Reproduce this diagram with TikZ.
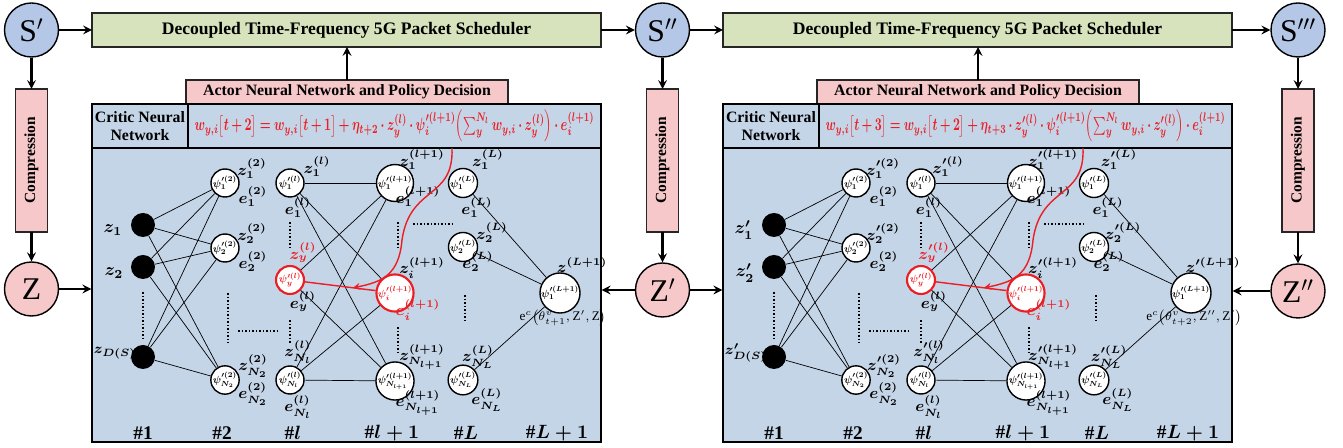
\documentclass[tikz,border=0pt]{standalone}
\usepackage{fontspec}
\setmainfont{Liberation Serif}
\usepackage{amsmath,amssymb}
\usepackage{graphicx}
\usetikzlibrary{calc}
\definecolor{panelblue}{RGB}{197,213,232}
\definecolor{stateblue}{RGB}{180,199,231}
\definecolor{schedgreen}{RGB}{214,227,188}
\definecolor{comppink}{RGB}{246,200,201}
\definecolor{rulered}{RGB}{235,30,35}
\def\myunit{0.02cm}
\def\mycirc{0.56cm}
\newcommand\psiu[2]{\scalebox{0.6}{$\psi'^{(#1)}_{#2}$}}
\tikzset{
semithick, % network edges semithick
>=stealth, % all arrows with stealth tip
my box/.style={draw=black!85,thick,inner sep=0pt,outer sep=0pt},
sched box/.style={my box,fill=schedgreen,minimum width=509*\myunit,minimum height=34*\myunit,
  font=\fontsize{10}{11}\selectfont\bfseries},
actor box/.style={my box,fill=comppink,minimum width=322*\myunit,minimum height=24*\myunit,
  font=\fontsize{9}{10}\selectfont\bfseries},
critic box/.style={draw,thick,fill=panelblue,inner sep=0pt,minimum height=44*\myunit,
  font=\fontsize{9}{10}\selectfont\bfseries},
panel box/.style={draw,thick,fill=panelblue,minimum width=509*\myunit,minimum height=294*\myunit},
comp box/.style={my box,fill=comppink,rotate=90,minimum width=143*\myunit,minimum height=32*\myunit,
  font=\fontsize{8.8}{9}\selectfont\bfseries},
my state/.style={circle,draw,thick,minimum size=54*\myunit,inner sep=0pt,font=\fontsize{18}{18}\selectfont},
obs state/.style={my state,fill=stateblue},
code state/.style={my state,fill=comppink},
neuron/.style={circle,draw,thick,fill=white,minimum size=\mycirc,inner sep=0pt,
  font=\fontsize{10}{10}\selectfont\boldmath},
hot/.style={draw=rulered,text=rulered,line width=1.2pt},
in unit/.style={circle,fill=black,minimum size=24*\myunit,inner sep=0pt},
lbl/.style={inner sep=0pt,font=\fontsize{9}{10}\selectfont\boldmath},
in lbl/.style={inner sep=0pt,font=\fontsize{10}{11}\selectfont\boldmath},
layer/.style={inner sep=0pt,font=\fontsize{11}{12}\selectfont\bfseries\boldmath},
dots/.style={dash pattern=on 1pt off 1pt,line width=0.9pt},
flow/.style={->,line width=1.2pt}
}

% one time step: scheduler, actor, critic and its network
% #1 prime of the state, #2 weight update, #3 critic output
\newcommand\criticpanel[3]{%
\node[sched box] (sched) at (254.5,30) {Decoupled Time-Frequency 5G Packet Scheduler};
\node[actor box] (actor) at (255,92) {Actor Neural Network and Policy Decision};
\node[critic box,minimum width=96*\myunit,align=center] (critic) at (48,126) {Critic Neural\\Network};
\node[critic box,minimum width=413*\myunit,text=rulered,font=\fontsize{10}{12}\selectfont\boldmath]
  (rule) at (302.5,126) {\resizebox*{8cm}{0.64cm}{#2}};
\node[panel box] (body) at (254.5,295) {};
\draw[flow] (actor.north) -- (actor.north |- sched.south);
% layer #1
\node[in unit] (x1) at (51,225) {};
\node[in unit] (x2) at (51,267) {};
\node[in unit] (xD) at (51,357) {};
\node[in lbl] (zx1) at (21,230) {$z#1_{1}$};
\node[in lbl] (zx2) at (22,273) {$z#1_{2}$};
\node[in lbl,font=\fontsize{8.5}{9}\selectfont\boldmath] (zxD) at (23,353) {$z#1_{D(S)}$};
% layer #2
\node[neuron] (h21) at (133,183) {\psiu{2}{1}};
\node[neuron] (h22) at (133,248) {\psiu{2}{2}};
\node[neuron] (h2N) at (133,380) {\psiu{2}{N_2}};
\node[lbl] (z21) at (160,169) {$z#1^{(2)}_{1}$};
\node[lbl] (e21) at (161,197) {$e^{(2)}_{1}$};
\node[lbl] (z22) at (160,234) {$z#1^{(2)}_{2}$};
\node[lbl] (e22) at (161,262) {$e^{(2)}_{2}$};
\node[lbl] (z2N) at (161,366) {$z#1^{(2)}_{N_2}$};
\node[lbl] (e2N) at (161,394) {$e^{(2)}_{N_2}$};
% layer #l
\node[neuron] (hl1) at (198,183) {\psiu{l}{1}};
\node[neuron,hot] (hly) at (198,280) {\psiu{l}{y}};
\node[neuron] (hlN) at (198,380) {\psiu{l}{N_l}};
\node[lbl] (zl1) at (225,167) {$z#1^{(l)}_{1}$};
\node[lbl] (el1) at (206,208) {$e^{(l)}_{1}$};
\node[lbl,text=rulered] (zly) at (211,253) {$z#1^{(l)}_{y}$};
\node[lbl] (ely) at (211,302) {$e^{(l)}_{y}$};
\node[lbl] (zlN) at (206,352) {$z#1^{(l)}_{N_l}$};
\node[lbl] (elN) at (206,407) {$e^{(l)}_{N_l}$};
% layer #l+1
\node[neuron] (hm1) at (303,183) {\psiu{l+1}{1}};
\node[neuron,hot] (hmi) at (303,293) {\psiu{l+1}{i}};
\node[neuron] (hmN) at (303,381) {\psiu{l+1}{N_{l+1}}};
\node[lbl] (zm1) at (330,160) {$z#1^{(l+1)}_{1}$};
\node[lbl] (em1) at (326,197) {$e^{(l+1)}_{1}$};
\node[lbl] (zmi) at (330,268) {$z#1^{(l+1)}_{i}$};
\node[lbl,text=rulered] (emi) at (326,310) {$e^{(l+1)}_{i}$};
\node[lbl] (zmN) at (330,357) {$z#1^{(l+1)}_{N_{l+1}}$};
\node[lbl] (emN) at (326,403) {$e^{(l+1)}_{N_{l+1}}$};
% layer #L
\node[neuron] (hL1) at (371,183) {\psiu{L}{1}};
\node[neuron] (hL2) at (371,247) {\psiu{L}{2}};
\node[neuron] (hLN) at (371,380) {\psiu{L}{N_L}};
\node[lbl] (zL1) at (396,160) {$z#1^{(L)}_{1}$};
\node[lbl] (eL1) at (385,208) {$e^{(L)}_{1}$};
\node[lbl] (zL2) at (400,233) {$z#1^{(L)}_{2}$};
\node[lbl] (eL2) at (386,262) {$e^{(L)}_{2}$};
\node[lbl] (zLN) at (386,357) {$z#1^{(L)}_{N_L}$};
\node[lbl] (eLN) at (395,400) {$e^{(L)}_{N_L}$};
% layer #L+1
\node[neuron] (out) at (468,293) {\psiu{L+1}{1}};
\node[lbl] (zout) at (490,265) {$z#1^{(L+1)}$};
\node[lbl,font=\fontsize{7.5}{8}\selectfont] (cost) at (471,318) {#3};
% connections
\foreach \s in {x1,x2,xD}
  \foreach \t in {h21,h22,h2N}
    \draw (\s) -- (\t);
\foreach \s/\t in {hl1/hm1,hl1/hmi,hl1/hmN,hly/hm1,hly/hmN,hlN/hm1,hlN/hmi,hlN/hmN}
  \draw (\s) -- (\t);
\foreach \s in {hL1,hL2,hLN}
  \draw (\s) -- (out);
\draw[rulered,thick] (hly) -- (hmi);
\coordinate (tap) at (360,148);
\coordinate (hit) at ($(hly)!0.6!(hmi)$);
\draw[rulered,thick,->] (tap) .. controls (362,200) and (318,185) .. (310,240)
  .. controls (307,275) and (290,282) .. (hit);
% dotted gaps
\foreach \x/\ya/\yb in {51/292/338,136/293/343,198/222/248,198/320/343,306/222/250,306/327/353,373/295/322}
  \draw[dots] (\x,\ya) -- (\x,\yb);
\draw[dots] (146,331) -- (186,331);
\draw[dots] (321,224) -- (360,224);
% layer numbers
\node[layer] (n1) at (51,433) {\#1};
\node[layer] (n2) at (130,433) {\#2};
\node[layer] (nl) at (201,433) {\#$l$};
\node[layer] (nm) at (300,433) {\#$l+1$};
\node[layer] (nL) at (374,433) {\#$L$};
\node[layer] (nO) at (465,433) {\#$L+1$};
}

\begin{document}
\begin{tikzpicture}[x=\myunit,y=-\myunit]
\useasboundingbox (0,0) rectangle (1343,448);
\begin{scope}[shift={(92,0)},name prefix=L-]
\criticpanel{}{$\medmuskip=3mu\thickmuskip=4mu w_{y,i}\bigl[t+2\bigr]=w_{y,i}\bigl[t+1\bigr]+\eta_{t+2}\cdot z^{(l)}_{y}\cdot\psi'^{(l+1)}_{i}\Bigl(\sum\nolimits_{y}^{N_l}w_{y,i}\cdot z^{(l)}_{y}\Bigr)\cdot e^{(l+1)}_{i}$}%
  {$\mathrm{e}^{c}\bigl(\theta^{v}_{t+1},\mathrm{Z}',\mathrm{Z}\bigr)$}
\end{scope}
\begin{scope}[shift={(723,0)},name prefix=R-]
\criticpanel{'}{$\medmuskip=3mu\thickmuskip=4mu w_{y,i}\bigl[t+3\bigr]=w_{y,i}\bigl[t+2\bigr]+\eta_{t+3}\cdot z'^{(l)}_{y}\cdot\psi'^{(l+1)}_{i}\Bigl(\sum\nolimits_{y}^{N_l}w_{y,i}\cdot z'^{(l)}_{y}\Bigr)\cdot e^{(l+1)}_{i}$}%
  {$\mathrm{e}^{c}\bigl(\theta^{v}_{t+2},\mathrm{Z}'',\mathrm{Z}'\bigr)$}
\end{scope}
% states and compression between the steps
\node[obs state] (S1) at (31.5,30) {S$'$};
\node[comp box] (C1) at (31.5,160.5) {Compression};
\node[code state] (Z1) at (31.5,289) {Z};
\node[obs state] (S2) at (662.5,30) {S$''$};
\node[comp box] (C2) at (662.5,160.5) {Compression};
\node[code state] (Z2) at (662.5,290) {Z$'$};
\node[obs state] (S3) at (1298,30) {S$'''$};
\node[comp box] (C3) at (1298,160.5) {Compression};
\node[code state] (Z3) at (1298,291) {Z$''$};
\draw[flow] (S1) -- (L-sched);
\draw[flow] (L-sched) -- (S2);
\draw[flow] (S2) -- (R-sched);
\draw[flow] (R-sched) -- (S3);
\draw[flow] (S1) -- (C1);
\draw[flow] (C1) -- (Z1);
\draw[flow] (S2) -- (C2);
\draw[flow] (C2) -- (Z2);
\draw[flow] (S3) -- (C3);
\draw[flow] (C3) -- (Z3);
\draw[flow] (Z1) -- (Z1 -| L-body.west);
\draw[flow] (Z2) -- (Z2 -| L-body.east);
\draw[flow] (Z2) -- (Z2 -| R-body.west);
\draw[flow] (Z3) -- (Z3 -| R-body.east);
\end{tikzpicture}
\end{document}
